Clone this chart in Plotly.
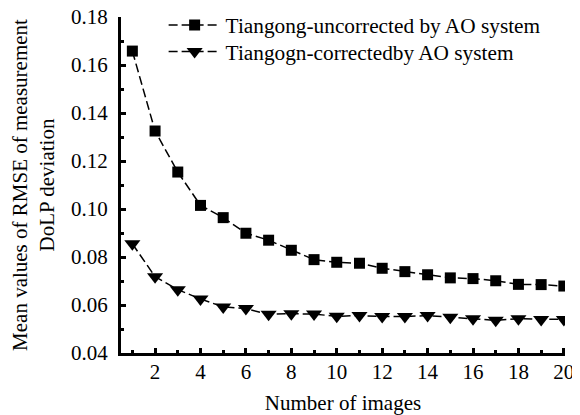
import plotly.graph_objects as go

images = list(range(1, 21))
uncorrected = [0.1658, 0.1325, 0.1154, 0.1015, 0.0964, 0.0899, 0.0870, 0.0828, 0.0789, 0.0778,
               0.0774, 0.0753, 0.0739, 0.0726, 0.0713, 0.0710, 0.0701, 0.0686, 0.0685, 0.0679]
corrected = [0.0855, 0.0718, 0.0664, 0.0625, 0.0592, 0.0585, 0.0561, 0.0564, 0.0562, 0.0553,
             0.0556, 0.0552, 0.0552, 0.0556, 0.0549, 0.0543, 0.0536, 0.0543, 0.0540, 0.0540]
names = ["Tiangong-uncorrected by AO system", "Tiangogn-correctedby AO system"]
x_tickvals = [2, 4, 6, 8, 10, 12, 14, 16, 18, 20]
y_tickvals = [0.04, 0.06, 0.08, 0.10, 0.12, 0.14, 0.16, 0.18]

FONT = "Liberation Serif"
FS = 21

fig = go.Figure()
fig.add_trace(go.Scatter(
    x=images, y=uncorrected, name=names[0], mode="lines+markers", legend="legend",
    line=dict(color="black", width=1.5, dash="9px,4px"),
    marker=dict(symbol="square", size=11, color="black"),
))
fig.add_trace(go.Scatter(
    x=images, y=corrected, name=names[1], mode="lines+markers", legend="legend2",
    line=dict(color="black", width=1.5, dash="9px,4px"),
    marker=dict(symbol="triangle-down", size=14, color="black"),
))

leg_common = dict(xref="paper", yref="paper", xanchor="left", yanchor="middle",
                  bgcolor="rgba(0,0,0,0)", font=dict(family=FONT, size=21.3),
                  itemwidth=52, borderwidth=0)

fig.update_layout(
    width=572, height=407,
    margin=dict(l=113, r=15, t=9, b=62, autoexpand=False),
    paper_bgcolor="white", plot_bgcolor="white",
    font=dict(family=FONT, size=FS, color="black"),
    showlegend=True,
    legend=dict(x=0.096, y=0.976, **leg_common),
    legend2=dict(x=0.096, y=0.897, **leg_common),
    xaxis=dict(
        range=[0.5, 20.05], tickmode="array", tickvals=x_tickvals,
        ticks="inside", ticklen=5, tickwidth=3, tickcolor="black",
        showline=True, linewidth=3, linecolor="black", showgrid=False, zeroline=False,
        minor=dict(tickmode="linear", tick0=1, dtick=1, ticks="inside", ticklen=3,
                   tickwidth=3, tickcolor="black", showgrid=False),
        title=dict(text="Number of images", font=dict(family=FONT, size=FS), standoff=18),
        tickfont=dict(family=FONT, size=FS), ticklabelstandoff=-2,
        ticklabeloverflow="allow", automargin=False,
    ),
    yaxis=dict(
        range=[0.04, 0.18], tickmode="array", tickvals=y_tickvals, tickformat=".2f",
        ticks="inside", ticklen=5, tickwidth=3, tickcolor="black",
        showline=True, linewidth=3, linecolor="black", showgrid=False, zeroline=False,
        minor=dict(tickmode="linear", tick0=0.04, dtick=0.01, ticks="inside", ticklen=3,
                   tickwidth=3, tickcolor="black", showgrid=False),
        title=dict(text="Mean values of RMSE of measurement<br>DoLP deviation",
                   font=dict(family=FONT, size=FS), standoff=28),
        tickfont=dict(family=FONT, size=FS), ticklabelstandoff=6,
        ticklabeloverflow="allow", automargin=False,
    ),
)

fig.write_html("out.html")
